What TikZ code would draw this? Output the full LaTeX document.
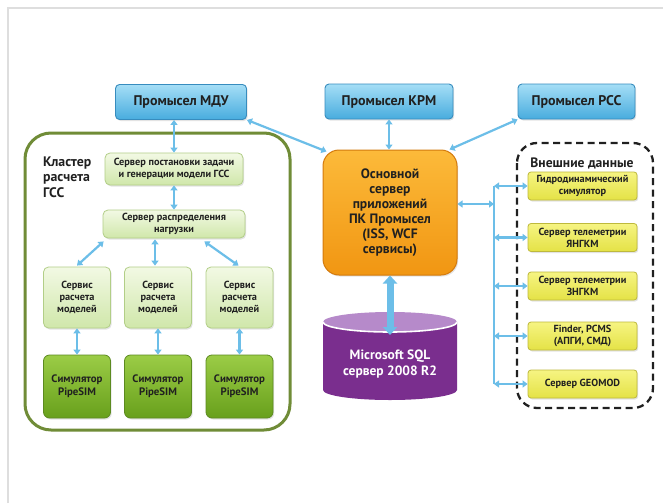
\documentclass[tikz,border=0pt]{standalone}
\usepackage{fontspec}
\setmainfont{PT Sans}
\usetikzlibrary{arrows.meta,calc,shadows}
\definecolor{arrowblue}{RGB}{108,190,232}
\definecolor{bluetop}{RGB}{165,222,246}
\definecolor{bluebot}{RGB}{72,172,222}
\definecolor{blueborder}{RGB}{55,140,190}
\definecolor{framegreen}{RGB}{112,140,55}
\definecolor{lgtop}{RGB}{242,249,228}
\definecolor{lgbot}{RGB}{208,231,170}
\definecolor{lgborder}{RGB}{178,206,135}
\definecolor{dgtop}{RGB}{155,204,70}
\definecolor{dgbot}{RGB}{104,160,28}
\definecolor{dgborder}{RGB}{92,138,32}
\definecolor{ortop}{RGB}{252,186,58}
\definecolor{orbot}{RGB}{241,150,18}
\definecolor{orborder}{RGB}{212,122,12}
\definecolor{purp}{RGB}{122,46,142}
\definecolor{purplight}{RGB}{182,138,202}
\definecolor{yeltop}{RGB}{246,244,130}
\definecolor{yelbot}{RGB}{228,226,70}
\definecolor{yelborder}{RGB}{190,185,60}
\definecolor{txt}{RGB}{32,32,32}
\definecolor{framegray}{RGB}{222,222,222}
\tikzset{
  arr/.style={line width=2.2pt, draw=arrowblue,
    {Triangle[length=5pt,width=7pt]}-{Triangle[length=5pt,width=7pt]}},
  bigarr/.style={line width=7pt, draw=arrowblue,
    {Triangle[length=8pt,width=14pt]}-{Triangle[length=8pt,width=14pt]}},
  softshadow/.style={drop shadow={opacity=0.22, shadow xshift=1.2pt, shadow yshift=-1.5pt}},
  bluebox/.style={rounded corners=4pt, draw=blueborder, line width=0.9pt,
    top color=bluetop, bottom color=bluebot, minimum height=35pt, inner sep=0pt,
    text=txt, font=\bfseries\fontsize{14}{16}\selectfont, softshadow},
  lgbox/.style={rounded corners=5pt, draw=lgborder, line width=0.8pt,
    top color=lgtop, bottom color=lgbot, inner sep=0pt, align=center,
    text=txt, font=\bfseries\fontsize{10.3}{12.4}\selectfont, softshadow},
  dgbox/.style={rounded corners=6pt, draw=dgborder, line width=0.8pt,
    top color=dgtop, bottom color=dgbot, inner sep=0pt, align=center,
    minimum width=67pt, minimum height=63pt,
    text=txt, font=\bfseries\fontsize{10.8}{13}\selectfont, softshadow},
  orbox/.style={rounded corners=16pt, draw=orborder, line width=1pt,
    top color=ortop, bottom color=orbot, inner sep=0pt, align=center,
    minimum width=134pt, minimum height=125pt,
    text=txt, font=\bfseries\fontsize{13.6}{15}\selectfont, softshadow},
  yelbox/.style={rounded corners=3pt, draw=yelborder, line width=0.8pt,
    top color=yeltop, bottom color=yelbot, inner sep=0pt, align=center,
    minimum width=109pt, minimum height=28pt,
    text=txt, font=\bfseries\fontsize{10.3}{12}\selectfont, softshadow},
  title/.style={inner sep=0pt, text=txt, font=\bfseries\fontsize{13.8}{15.5}\selectfont}
}
\begin{document}
\begin{tikzpicture}[x=1pt,y=-1pt]
\useasboundingbox (0,0) rectangle (663,503);
\fill[white] (0,0) rectangle (663,503);
\draw[framegray, line width=1.2pt] (8,503) -- (8,8) -- (663,8);

% top boxes
\node[bluebox, minimum width=131pt] (mdu) at (181,102) {Промысел МДУ};
\node[bluebox, minimum width=128pt] (krm) at (389,101.5) {Промысел КРМ};
\node[bluebox, minimum width=117pt] (rss) at (576.5,101.5) {Промысел РСС};

% cluster
\draw[framegreen, line width=3pt, rounded corners=26pt] (25,133) rectangle (290,430);
\node[title, align=left, anchor=west] (cl) at (43,177) {Кластер\\расчета\\ГСС};
\node[lgbox, minimum width=138pt, minimum height=32pt] (srv1) at (174,169)
  {Сервер постановки задачи\\и генерации модели ГСС};
\node[lgbox, minimum width=142pt, minimum height=28pt] (srv2) at (174,224)
  {Сервер распределения\\нагрузки};
\foreach \i/\x in {1/77,2/158,3/239.5}{
  \node[lgbox, minimum width=67pt, minimum height=61pt] (svc\i) at (\x,297.5)
    {Сервис\\расчета\\моделей};
  \node[dgbox] (sim\i) at (\x,386.5) {Симулятор\\PipeSIM};
}

% main server
\node[orbox] (main) at (390,212.5)
  {Основной\\сервер\\приложений\\ПК Промысел\\(ISS, WCF\\сервисы)};

% database cylinder
\fill[purp] (323,322) -- (323,390) arc[start angle=180, end angle=360, x radius=67pt, y radius=10pt] -- (457,322) -- cycle;
\fill[purplight] (390,322) ellipse[x radius=67pt, y radius=10pt];
\draw[white, line width=1.6pt] (323,322) arc[start angle=180, end angle=360, x radius=67pt, y radius=10pt];
\node[inner sep=0pt, minimum width=134pt, minimum height=88pt, align=center,
  text=white, font=\bfseries\fontsize{13.5}{16}\selectfont] (db) at (390,364.5)
  {Microsoft SQL\\сервер 2008 R2};
\coordinate (dbtop) at (390,335);

% external data
\draw[txt, line width=2.3pt, dash pattern=on 7pt off 4.5pt, rounded corners=20pt] (517,143) rectangle (653,408);
\node[title, font=\bfseries\fontsize{13.6}{15}\selectfont] (ext) at (582,163) {Внешние данные};
\node[yelbox] (y1) at (582.5,186) {Гидродинамический\\симулятор};
\node[yelbox] (y2) at (582.5,237.5) {Сервер телеметрии\\ЯНГКМ};
\node[yelbox] (y3) at (582.5,286) {Сервер телеметрии\\ЗНГКМ};
\node[yelbox] (y4) at (582.5,336) {Finder, PCMS\\(АПГИ, СМД)};
\node[yelbox] (y5) at (582.5,384) {Сервер GEOMOD};

% connectors
\draw[arr] (mdu.south -| srv1.north) -- (srv1.north);
\draw[arr] (srv1.south) -- (srv2.south |- srv2.north);
\draw[arr] ($(srv2.south west)+(1,3)$) -- ($(svc1.north)+(0,-1)$);
\draw[arr] ($(srv2.south)+(-19,1)$) -- ($(svc2.north)+(-3,-1)$);
\draw[arr] ($(srv2.south east)+(-41,3)$) -- ($(svc3.north)+(-1,-1)$);
\foreach \i in {1,2,3}{
  \draw[arr] (svc\i.south) -- (sim\i.north);
}
\draw[arr] (mdu.south east) -- ($(main.north west)+(4,2)$);
\draw[arr] (krm.south) -- (krm.south |- main.north);
\draw[arr] (rss.south west) -- ($(main.north east)+(-8,0)$);
\draw[bigarr] (main.south) -- (dbtop);

\coordinate (b1) at (494,186);
\coordinate (b5) at (494,384);
\coordinate (bm) at (494,204);
\draw[arrowblue, line width=2.2pt] (b1) -- (b5);
\draw[arr] (main.east |- bm) -- (bm);
\foreach \i in {1,...,5}{
  \draw[arr] (b5 |- y\i.west) -- (y\i.west);
}
\end{tikzpicture}
\end{document}
